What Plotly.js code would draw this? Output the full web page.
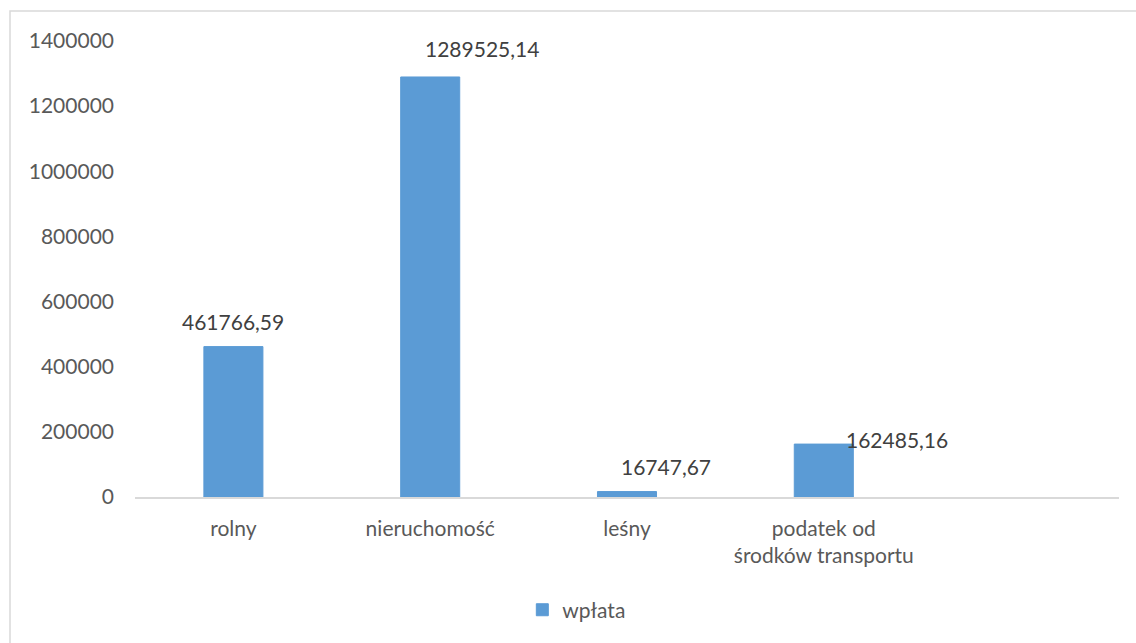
<!DOCTYPE html>
<html>
<head>
<meta charset="utf-8">
<script src="https://cdn.plot.ly/plotly-3.0.1.min.js"></script>
<style>
  html, body { margin: 0; padding: 0; background: #fff; overflow: hidden; }
  #chart { width: 1136px; height: 643px; }
</style>
</head>
<body>
<div id="chart"></div>
<script>
// ---- data ----
const categories = ["rolny", "nieruchomość", "leśny", "podatek od<br>środków transportu"];
const values = [461766.59, 1289525.14, 16747.67, 162485.16];
const seriesName = "wpłata";
const yTicks = [0, 200000, 400000, 600000, 800000, 1000000, 1200000, 1400000];

// label placement offsets (layout only)
const labelShiftX = [0, 52, 39, 73];
const labelShiftY = [25, 28, 25, 5];

const FONT = "Lato, 'Open Sans', sans-serif";
const fmt = v => v.toFixed(2).replace(".", ",");

const trace = {
  type: "bar",
  x: categories,
  y: values,
  name: seriesName,
  width: 0.30,
  marker: { color: "#5B9BD5", line: { color: "#5B9BD5", width: 1 } },
  hoverinfo: "x+y",
  showlegend: true
};

const annotations = categories.map((c, i) => ({
  x: c, y: values[i], xref: "x", yref: "y",
  text: fmt(values[i]),
  showarrow: false,
  xanchor: "center", yanchor: "middle",
  xshift: labelShiftX[i], yshift: labelShiftY[i],
  font: { family: FONT, size: 21, color: "#404040" }
}));

const layout = {
  width: 1136, height: 643,
  margin: { l: 135, r: 17, t: 41, b: 146 },
  paper_bgcolor: "#ffffff",
  plot_bgcolor: "#ffffff",
  font: { family: FONT, size: 21, color: "#595959" },
  xaxis: {
    type: "category",
    range: [-0.5, 4.5],
    showgrid: false,
    zeroline: false,
    showline: true,
    linecolor: "#d9d9d9",
    linewidth: 1.5,
    ticks: "",
    ticklabelstandoff: 12,
    tickfont: { family: FONT, size: 21, color: "#595959" },
    fixedrange: true
  },
  yaxis: {
    range: [0, 1400000],
    tickvals: yTicks,
    ticktext: yTicks.map(v => String(v)),
    showgrid: false,
    zeroline: false,
    showline: false,
    ticks: "",
    ticklabelstandoff: 20,
    tickfont: { family: FONT, size: 21, color: "#595959" },
    fixedrange: true
  },
  showlegend: true,
  legend: {
    orientation: "h",
    x: 0.449, xanchor: "center",
    y: -0.248, yanchor: "middle",
    font: { family: FONT, size: 21, color: "#595959" },
    bgcolor: "rgba(0,0,0,0)"
  },
  shapes: [{
    type: "rect", xref: "paper", yref: "paper",
    x0: (10 - 135) / 984, x1: (1250 - 135) / 984,
    y0: (497 - 720) / 456, y1: (497 - 11) / 456,
    line: { color: "#d9d9d9", width: 1.5 },
    fillcolor: "rgba(0,0,0,0)",
    layer: "below"
  }],
  annotations: annotations,
  bargap: 0.69
};

Plotly.newPlot("chart", [trace], layout, { displayModeBar: false, staticPlot: true });
</script>
</body>
</html>
